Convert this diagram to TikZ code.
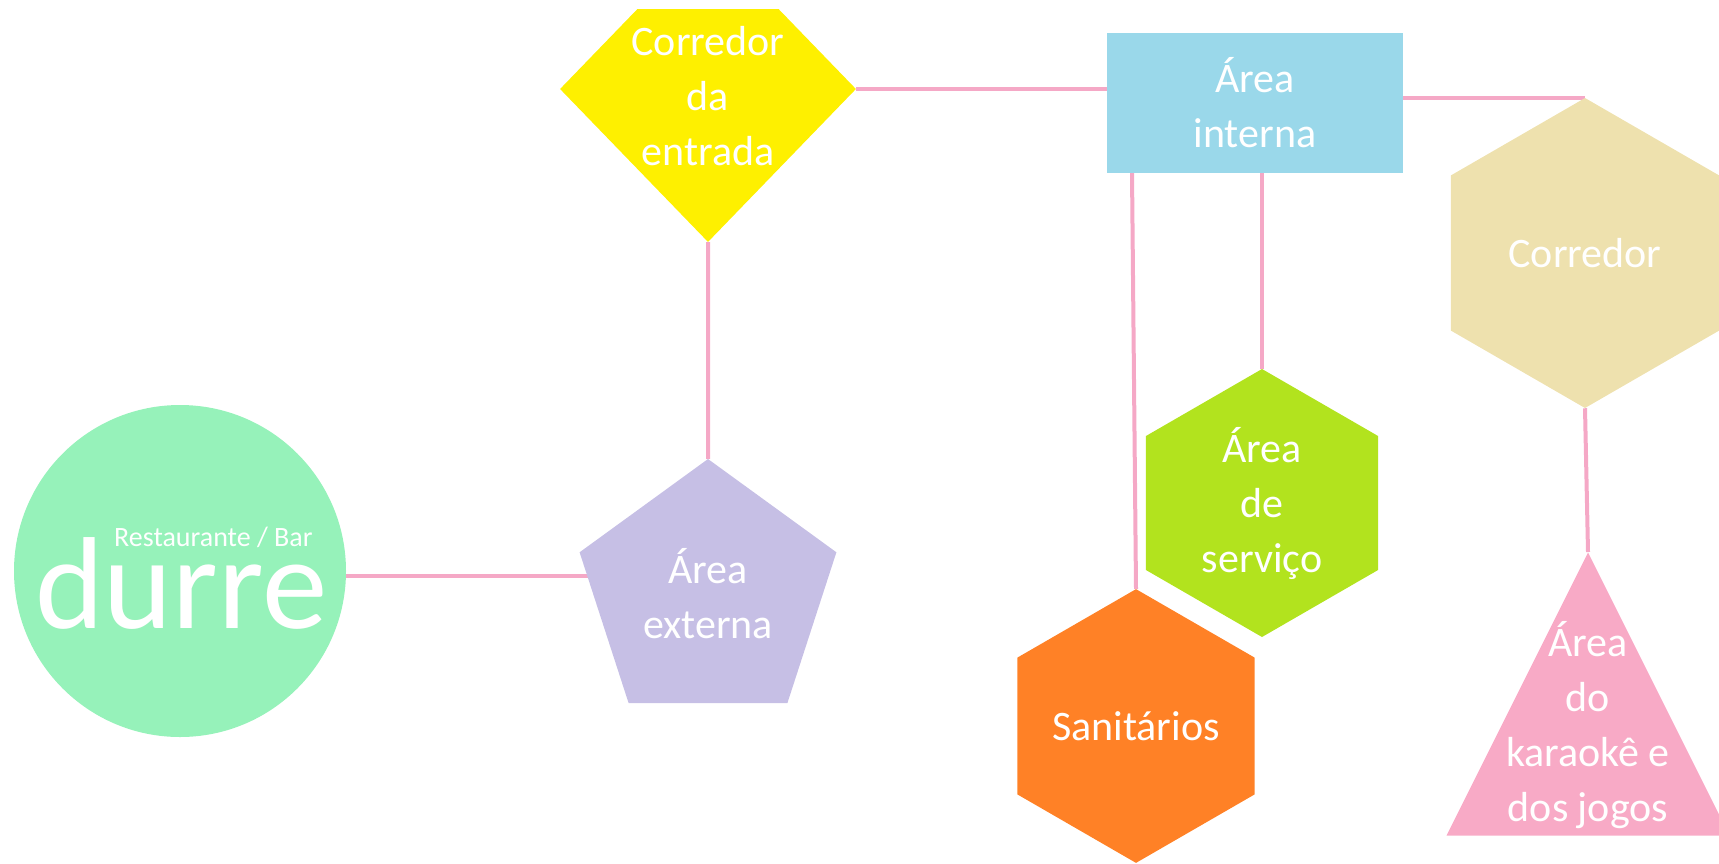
\documentclass[tikz,border=0pt]{standalone}
\usepackage{fontspec}
\setmainfont{Carlito}
\usetikzlibrary{shapes.geometric,positioning,backgrounds}

\definecolor{mint}{HTML}{96F2BA}
\definecolor{sunny}{HTML}{FEF000}
\definecolor{sky}{HTML}{9AD8EA}
\definecolor{sand}{HTML}{EEE1AE}
\definecolor{lime}{HTML}{B2E31E}
\definecolor{tangerine}{HTML}{FF8126}
\definecolor{lavender}{HTML}{C6BFE5}
\definecolor{blush}{HTML}{F8AAC6}
\definecolor{linkpink}{HTML}{F5A8C6}

\tikzset{
  txt/.style={text=white, inner sep=0pt, align=center,
    font=\fontsize{42}{55}\selectfont},
  room/.style={txt, fill=#1},
  hexa/.style={room=#1, regular polygon, regular polygon sides=6,
    shape border rotate=30},
  link/.style={draw=linkpink, line width=4pt},
}

\begin{document}
\begin{tikzpicture}[x=1pt,y=-1pt]
  \useasboundingbox (0,0) rectangle (1719,863);
  \begin{scope}
  \clip (0,9) rectangle (1719,863);
  % logo
  \node[room=mint, circle, minimum size=332pt] (logo) at (180,571) {};
  \node[txt, anchor=base west, font=\fontsize{131}{131}\selectfont] (durre) at (35,628) {durre};
  \node[txt, anchor=base west, font=\fontsize{28}{28}\selectfont] (slogan) at (114,546) {Restaurante / Bar};
  % rooms
  \node[room=sunny, diamond, minimum width=296pt, minimum height=306pt,
        label={[txt,yshift=-7pt]center:{Corredor\\da\\entrada}}] (entrada) at (708,89) {};
  \node[room=lavender, regular polygon, regular polygon sides=5, minimum size=270pt] (externa) at (708,594) {Área\\externa};
  \node[room=sky, rectangle, minimum width=296pt, minimum height=140pt] (interna) at (1255,103) {Área\\interna};
  \node[hexa=sand, minimum size=310pt] (corredor) at (1585,253) {Corredor};
  \node[hexa=lime, minimum size=268pt] (servico) at (1262,503) {Área\\de\\serviço};
  \node[hexa=tangerine, minimum size=268pt] (sanit) at (1136,726) {Sanitários};
  \node[room=blush, isosceles triangle, isosceles triangle stretches, shape border rotate=90,
        minimum width=283pt, minimum height=283pt, anchor=apex] (karaoke) at (1588,552) {};
  \node[txt] (karaoke text) at ([yshift=-173pt]karaoke.apex) {Área\\do\\karaokê e\\dos jogos};
  \end{scope}

  \begin{pgfonlayer}{background}
  \path[link]
    ([yshift=-5pt]logo.east) edge ([yshift=-5pt]logo.east -| externa.center)
    (entrada.south) edge (externa.north)
    (entrada.east) edge (entrada.east -| interna.west)
    (interna.east |- corredor.north) edge (corredor.north)
    (corredor.south) edge (karaoke.apex)
    (servico.north |- interna.south) edge (servico.north)
    ([xshift=-4pt]sanit.north |- interna.south) edge (sanit.north);
  \end{pgfonlayer}
\end{tikzpicture}
\end{document}
